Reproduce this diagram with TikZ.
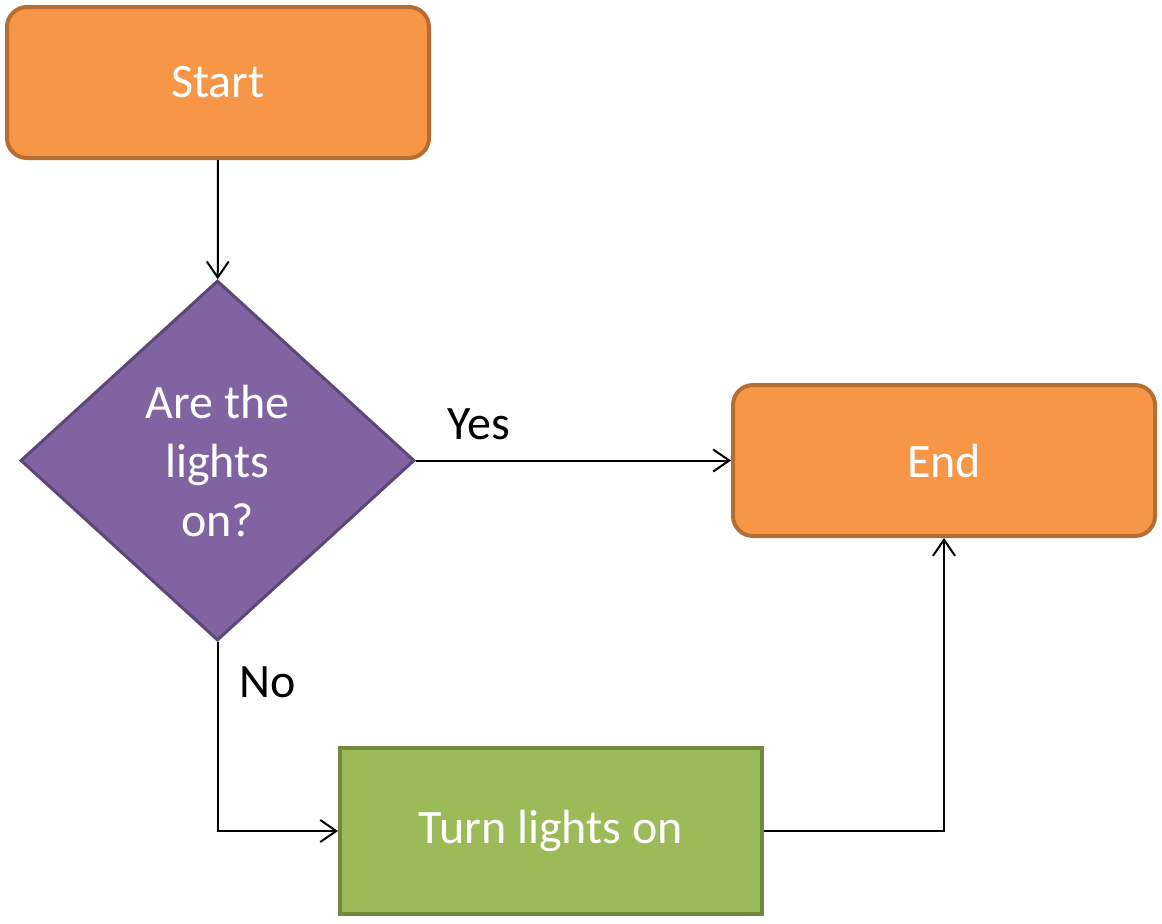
\documentclass[tikz,border=0pt]{standalone}
\usepackage{fontspec}
\setmainfont{Carlito}
\usetikzlibrary{shapes.geometric,arrows.meta}

\definecolor{termfill}{HTML}{F79646}
\definecolor{termline}{HTML}{B66D31}
\definecolor{decfill}{HTML}{8064A2}
\definecolor{decline}{HTML}{5C4776}
\definecolor{procfill}{HTML}{9BBB59}
\definecolor{procline}{HTML}{71893F}

\tikzset{
  flowtext/.style={font=\fontsize{24}{29.5}\selectfont},
  terminal/.style={flowtext, rectangle, rounded corners=10pt, fill=termfill,
    draw=termline, line width=2pt, text=white,
    minimum width=211pt, minimum height=75.5pt, inner sep=0pt},
  decision/.style={flowtext, diamond, fill=decfill, draw=decline,
    line width=1.5pt, text=white, align=center,
    minimum width=197pt, minimum height=180pt, inner sep=0pt},
  process/.style={flowtext, rectangle, fill=procfill, draw=procline,
    line width=2pt, text=white,
    minimum width=211pt, minimum height=83pt, inner sep=0pt},
  conn/.style={draw=black, line width=1pt,
    -{Straight Barb[length=8pt,width=11pt,line width=1pt]}},
  edgelabel/.style={flowtext, text=black, inner sep=0pt}
}

\begin{document}
\begin{tikzpicture}[x=0.5pt,y=-0.5pt]
  \useasboundingbox (0,0) rectangle (1162,923);

  % shapes
  \node[terminal] (start) at (218,82.5) {Start};
  \node[decision] (q) at (217.5,460.5) {Are the\\lights\\on?};
  \node[terminal] (end) at (944,460.5) {End};
  \node[process] (turn) at (551,831) {Turn lights on};

  % connectors
  \draw[conn] (start) -- (q);
  \draw[conn] (q.east) -- (end.west)
    node[edgelabel, pos=0.2, anchor=base, yshift=10.5pt] {Yes};
  \draw[conn] (q.south) |- (turn.west)
    node[edgelabel, pos=0.146, anchor=base west, xshift=10.5pt] {No};
  \draw[conn] (turn.east) -| (end.south);
\end{tikzpicture}
\end{document}
